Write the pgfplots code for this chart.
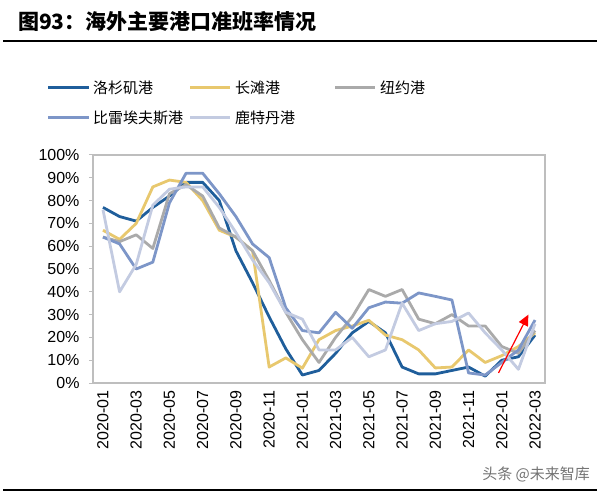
\documentclass[border=0pt]{standalone}
\usepackage{pgfplots}
\pgfplotsset{compat=1.18}
\usetikzlibrary{arrows.meta}
\usepackage{fontspec}
\setmainfont{Liberation Sans}
\newfontfamily\cjk{Noto Sans CJK SC}

\definecolor{la}{RGB}{31,94,155}
\definecolor{lb}{RGB}{232,200,110}
\definecolor{ny}{RGB}{170,170,170}
\definecolor{pir}{RGB}{125,150,200}
\definecolor{rot}{RGB}{195,203,225}
\definecolor{axgray}{RGB}{190,190,190}

\begin{document}
\begin{tikzpicture}
\path[use as bounding box] (0,0) rectangle (600bp,494bp);

% title and rules
\node[anchor=west, inner sep=0pt] at (18bp,472bp)
  {\fontsize{21bp}{25bp}\selectfont\cjk\bfseries 图93：海外主要港口准班率情况};
\draw[line width=2bp] (3bp,453bp) -- (597bp,453bp);
\draw[line width=2bp] (3bp,4bp) -- (597bp,4bp);
\node[anchor=east, inner sep=0pt, text=black!55] at (590bp,20bp)
  {\fontsize{15bp}{18bp}\selectfont\cjk 头条 @未来智库};

% legend
\begin{scope}[every node/.style={anchor=west, inner sep=0pt, font=\fontsize{15bp}{18bp}\selectfont\cjk}]
\draw[la, line width=3bp] (48bp,406bp) -- (89bp,406bp);
\node at (93bp,406bp) {洛杉矶港};
\draw[lb, line width=3bp] (190bp,406bp) -- (230bp,406bp);
\node at (235bp,406bp) {长滩港};
\draw[ny, line width=3bp] (335bp,406bp) -- (375bp,406bp);
\node at (380bp,406bp) {纽约港};
\draw[pir, line width=3bp] (48bp,376bp) -- (89bp,376bp);
\node at (93bp,376bp) {比雷埃夫斯港};
\draw[rot, line width=3bp] (190bp,376bp) -- (230bp,376bp);
\node at (235bp,376bp) {鹿特丹港};
\end{scope}

\begin{axis}[
  at={(93bp,111bp)}, anchor=south west,
  scale only axis, width=452bp, height=228bp,
  xmin=-0.6, xmax=26.6, ymin=0, ymax=100,
  axis line style={draw=axgray, line width=1.5bp},
  xtick={0,2,...,26},
  xticklabels={2020-01,2020-03,2020-05,2020-07,2020-09,2020-11,2021-01,2021-03,2021-05,2021-07,2021-09,2021-11,2022-01,2022-03},
  x tick label style={rotate=90, anchor=east, font=\fontsize{16bp}{16bp}\selectfont},
  xtick style={draw=none},
  ytick={0,10,...,100},
  yticklabel={\pgfmathprintnumber{\tick}\%},
  /pgf/number format/assume math mode=true,
  y tick label style={font=\fontsize{16bp}{16bp}\selectfont, xshift=-6bp},
  ytick pos=left, tick align=outside, major tick length=4bp,
  ytick style={draw=axgray, line width=1bp},
  every axis plot/.append style={line width=2.8bp, line join=round, mark=none},
  clip=false,
]
% 洛杉矶港
\addplot[la] coordinates {(0,77) (1,73) (2,71) (3,77) (4,82) (5,88) (6,88) (7,80) (8,58) (9,44) (10,29) (11,15) (12,3.5) (13,5.5) (14,13) (15,22) (16,27) (17,22) (18,7) (19,4) (20,4) (21,5.5) (22,7) (23,3) (24,10) (25,11.5) (26,21)};
% 长滩港
\addplot[lb] coordinates {(0,67) (1,63) (2,70) (3,86) (4,89) (5,88) (6,80) (7,67) (8,64) (9,58) (10,7) (11,11) (12,6.5) (13,19) (14,23) (15,25) (16,27.5) (17,21) (18,19) (19,14.5) (20,6.6) (21,7) (22,14.5) (23,9) (24,12) (25,16) (26,22)};
% 纽约港
\addplot[ny] coordinates {(0,64) (1,62) (2,65) (3,59) (4,83) (5,87) (6,82) (7,68) (8,64) (9,58) (10,45) (11,31) (12,19) (13,9) (14,20) (15,29) (16,41) (17,38) (18,41) (19,28) (20,26) (21,30) (22,25) (23,25) (24,16) (25,13) (26,23)};
% 比雷埃夫斯港
\addplot[pir] coordinates {(0,64) (1,61) (2,50) (3,53) (4,79) (5,92) (6,92) (7,83) (8,73) (9,61) (10,55) (11,33) (12,23) (13,22) (14,31) (15,24) (16,33) (17,35.5) (18,35) (19,39.5) (20,38) (21,36.4) (22,4.4) (23,3.5) (24,9) (25,14.5) (26,27.6)};
% 鹿特丹港
\addplot[rot] coordinates {(0,76) (1,40) (2,52) (3,78) (4,85) (5,86) (6,86) (7,77) (8,66) (9,54) (10,44) (11,31) (12,28) (13,14.5) (14,14.5) (15,20) (16,11.5) (17,14.5) (18,35) (19,23) (20,26) (21,27) (22,30.7) (23,22) (24,14.5) (25,6) (26,26)};
\draw[red, line width=1.2bp, -{Triangle[length=11bp,width=10bp]}] (axis cs:23.8,4.4) -- (axis cs:25.6,30);
\end{axis}
\end{tikzpicture}
\end{document}
